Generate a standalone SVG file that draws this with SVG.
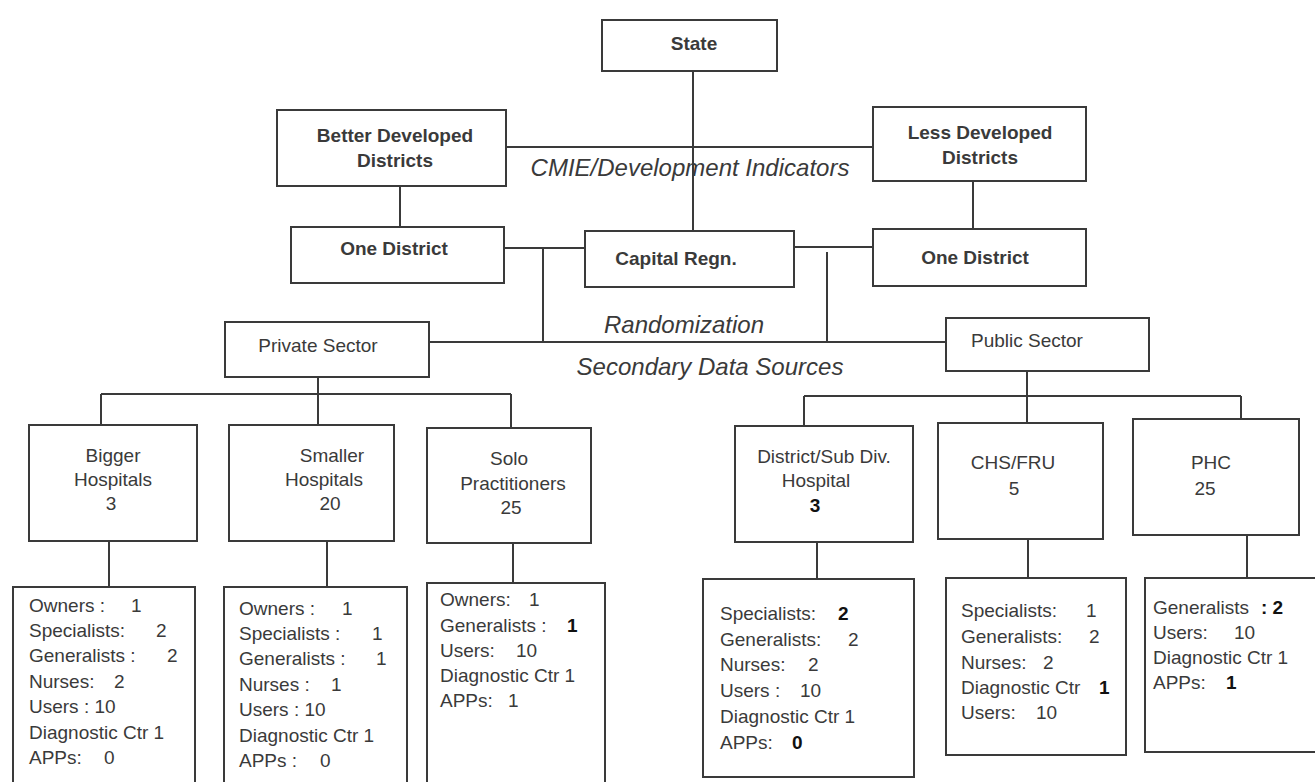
<svg xmlns="http://www.w3.org/2000/svg" width="1315" height="782" viewBox="0 0 1315 782">
<style>
.box{fill:#fff;stroke:#3a3a3a;stroke-width:2}
.ln{stroke:#3a3a3a;stroke-width:2;fill:none}
text{font-family:"Liberation Sans",Arial,sans-serif;fill:#3a3a3a}
.b{font-weight:bold;font-size:19px;text-anchor:middle}
.r{font-size:19px;text-anchor:middle}
.d{font-size:19px}
.i{font-style:italic;font-size:24px;text-anchor:middle}
.k{font-weight:bold;fill:#111}
</style>
<rect width="1315" height="782" fill="#fff"/>
<g id="connectors">
<path class="ln" d="M693 71V231 M506 147H873 M400 186V227 M973 181V229 M504 248H585 M794 247H873 M543 248V342 M827 252V342 M429 342H946"/>
<path class="ln" d="M318 377V425 M101 394H511 M101 394V425 M511 394V428"/>
<path class="ln" d="M1027 371V423 M804 396H1241 M804 396V426 M1241 396V419"/>
<path class="ln" d="M109 541V587 M327 541V587 M513 543V583 M817 542V579 M1028 539V578 M1247 535V578"/>
</g>
<g id="labels">
<text class="i" x="690" y="176">CMIE/Development Indicators</text>
<text class="i" x="684" y="333">Randomization</text>
<text class="i" x="710" y="375">Secondary Data Sources</text>
</g>
<g id="state"><rect class="box" x="602" y="20" width="175" height="51"/><text class="b" x="694" y="50">State</text></g>
<g id="better"><rect class="box" x="277" y="110" width="229" height="76"/><text class="b" x="395" y="142">Better Developed</text><text class="b" x="395" y="167">Districts</text></g>
<g id="less"><rect class="box" x="873" y="107" width="213" height="74"/><text class="b" x="980" y="139">Less Developed</text><text class="b" x="980" y="164">Districts</text></g>
<g id="one-left"><rect class="box" x="291" y="227" width="213" height="56"/><text class="b" x="394" y="255">One District</text></g>
<g id="capital"><rect class="box" x="585" y="231" width="209" height="56"/><text class="b" x="676" y="265">Capital Regn.</text></g>
<g id="one-right"><rect class="box" x="873" y="229" width="213" height="57"/><text class="b" x="975" y="264">One District</text></g>
<g id="private"><rect class="box" x="225" y="322" width="204" height="55"/><text class="r" x="318" y="352">Private Sector</text></g>
<g id="public"><rect class="box" x="946" y="318" width="203" height="53"/><text class="d" x="971" y="347">Public Sector</text></g>
<g id="bigger"><rect class="box" x="29" y="425" width="168" height="116"/><text class="r" x="113" y="462">Bigger</text><text class="r" x="113" y="486">Hospitals</text><text class="r" x="111" y="510">3</text></g>
<g id="smaller"><rect class="box" x="229" y="425" width="165" height="116"/><text class="r" x="332" y="462">Smaller</text><text class="r" x="324" y="486">Hospitals</text><text class="r" x="330" y="510">20</text></g>
<g id="solo"><rect class="box" x="427" y="428" width="164" height="115"/><text class="r" x="509" y="465">Solo</text><text class="r" x="513" y="490">Practitioners</text><text class="r" x="511" y="514">25</text></g>
<g id="district-hosp"><rect class="box" x="735" y="426" width="178" height="116"/><text class="r" x="824" y="463">District/Sub Div.</text><text class="r" x="816" y="487">Hospital</text><text class="r k" x="815" y="512">3</text></g>
<g id="chs"><rect class="box" x="938" y="423" width="165" height="116"/><text class="r" x="1013" y="469">CHS/FRU</text><text class="r" x="1014" y="495">5</text></g>
<g id="phc"><rect class="box" x="1133" y="419" width="166" height="116"/><text class="r" x="1211" y="469">PHC</text><text class="r" x="1205" y="495">25</text></g>
<g id="bigger-detail"><rect class="box" x="13" y="587" width="182" height="215"/>
<text class="d" x="29" y="612">Owners :<tspan x="131">1</tspan></text>
<text class="d" x="29" y="637">Specialists:<tspan x="156">2</tspan></text>
<text class="d" x="29" y="662">Generalists :<tspan x="167">2</tspan></text>
<text class="d" x="29" y="688">Nurses:<tspan x="114">2</tspan></text>
<text class="d" x="29" y="713">Users : 10</text>
<text class="d" x="29" y="739">Diagnostic Ctr 1</text>
<text class="d" x="29" y="764">APPs:<tspan x="104">0</tspan></text>
</g>
<g id="smaller-detail"><rect class="box" x="224" y="587" width="183" height="215"/>
<text class="d" x="239" y="615">Owners :<tspan x="342">1</tspan></text>
<text class="d" x="239" y="640">Specialists :<tspan x="372">1</tspan></text>
<text class="d" x="239" y="665">Generalists :<tspan x="376">1</tspan></text>
<text class="d" x="239" y="691">Nurses :<tspan x="331">1</tspan></text>
<text class="d" x="239" y="716">Users : 10</text>
<text class="d" x="239" y="742">Diagnostic Ctr 1</text>
<text class="d" x="239" y="767">APPs :<tspan x="320">0</tspan></text>
</g>
<g id="solo-detail"><rect class="box" x="427" y="583" width="178" height="219"/>
<text class="d" x="440" y="606">Owners:<tspan x="529">1</tspan></text>
<text class="d" x="440" y="632">Generalists :<tspan class="k" x="567">1</tspan></text>
<text class="d" x="440" y="657">Users:<tspan x="516">10</tspan></text>
<text class="d" x="440" y="682">Diagnostic Ctr 1</text>
<text class="d" x="440" y="707">APPs:<tspan x="508">1</tspan></text>
</g>
<g id="district-detail"><rect class="box" x="703" y="579" width="211" height="198"/>
<text class="d" x="720" y="620">Specialists:<tspan class="k" x="838">2</tspan></text>
<text class="d" x="720" y="646">Generalists:<tspan x="848">2</tspan></text>
<text class="d" x="720" y="671">Nurses:<tspan x="808">2</tspan></text>
<text class="d" x="720" y="697">Users :<tspan x="800">10</tspan></text>
<text class="d" x="720" y="723">Diagnostic Ctr 1</text>
<text class="d" x="720" y="749">APPs:<tspan class="k" x="792">0</tspan></text>
</g>
<g id="chs-detail"><rect class="box" x="946" y="578" width="180" height="177"/>
<text class="d" x="961" y="617">Specialists:<tspan x="1086">1</tspan></text>
<text class="d" x="961" y="643">Generalists:<tspan x="1089">2</tspan></text>
<text class="d" x="961" y="669">Nurses:<tspan x="1043">2</tspan></text>
<text class="d" x="961" y="694">Diagnostic Ctr<tspan class="k" x="1099">1</tspan></text>
<text class="d" x="961" y="719">Users:<tspan x="1036">10</tspan></text>
</g>
<g id="phc-detail"><rect class="box" x="1145" y="578" width="175" height="174"/>
<text class="d" x="1153" y="614">Generalists<tspan class="k" x="1261">: 2</tspan></text>
<text class="d" x="1153" y="639">Users:<tspan x="1234">10</tspan></text>
<text class="d" x="1153" y="664">Diagnostic Ctr 1</text>
<text class="d" x="1153" y="689">APPs:<tspan class="k" x="1226">1</tspan></text>
</g>
</svg>
